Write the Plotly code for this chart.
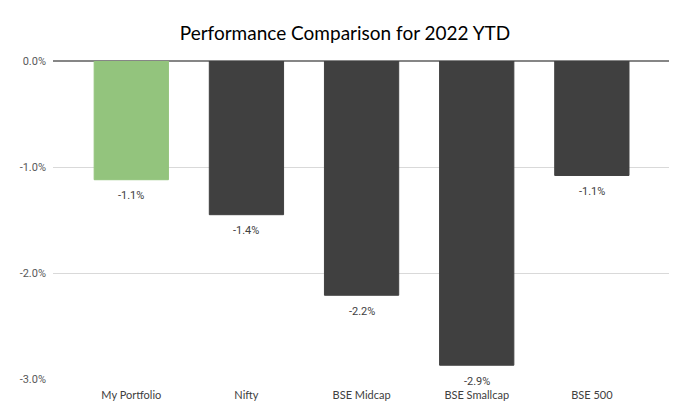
import plotly.graph_objects as go

categories = ["My Portfolio", "Nifty", "BSE Midcap", "BSE Smallcap", "BSE 500"]
returns_pct = [-1.12, -1.45, -2.21, -2.87, -1.08]
bar_colors = ["#93c47d", "#404040", "#404040", "#404040", "#404040"]
tick_vals = [0, -1, -2, -3]
tick_text = ["0.0%", "-1.0%", "-2.0%", "-3.0%"]

fig = go.Figure(
    go.Bar(
        x=categories,
        y=returns_pct,
        marker=dict(color=bar_colors, line=dict(color=bar_colors, width=1)),
        width=0.645,
        hoverinfo="x+y",
    )
)

for c, v in zip(categories, returns_pct):
    fig.add_annotation(
        x=c, y=v, xref="x", yref="y",
        text=f"{v:.1f}%",
        showarrow=False,
        yshift=-16,
        font=dict(family="Roboto", size=11, color="#404040"),
    )

fig.update_layout(
    width=690,
    height=418,
    paper_bgcolor="white",
    plot_bgcolor="white",
    margin=dict(l=53, r=21, t=61, b=39),
    title=dict(
        text="Performance Comparison for 2022 YTD",
        x=0.5,
        xanchor="center",
        y=0.921,
        yanchor="middle",
        font=dict(family="Lato", size=19, color="#000000"),
    ),
    showlegend=False,
    xaxis=dict(
        range=[-0.68, 4.67],
        showgrid=False,
        showline=False,
        ticks="",
        automargin=False,
        ticklabelstandoff=8,
        tickfont=dict(family="Lato", size=11, color="#404040"),
    ),
    yaxis=dict(
        range=[-3, 0],
        tickvals=tick_vals,
        ticktext=tick_text,
        showgrid=True,
        gridcolor="#d9d9d9",
        gridwidth=1,
        zeroline=True,
        zerolinecolor="#868686",
        zerolinewidth=2,
        showline=False,
        ticks="",
        automargin=False,
        ticklabelstandoff=6,
        tickfont=dict(family="Roboto", size=11, color="#595959"),
    ),
)

fig.write_html(
    "out.html",
    config={"displayModeBar": False},
    post_script="document.body.style.margin='0';",
)
